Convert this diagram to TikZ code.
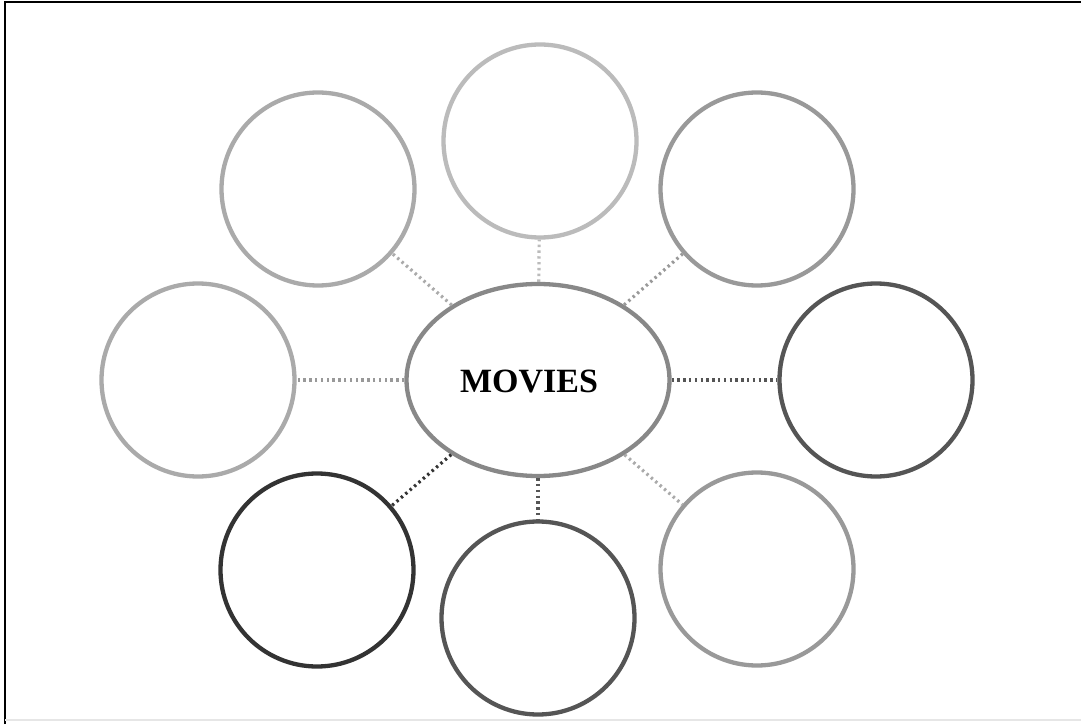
\documentclass[tikz,border=0pt]{standalone}
\usepackage{fontspec}
\setmainfont{Liberation Serif}
\usetikzlibrary{shapes.geometric}
\begin{document}
\begin{tikzpicture}[x=1pt,y=1pt,
  bubble/.style={circle,draw,line width=4.3pt,minimum size=193pt,inner sep=0pt},
  hub/.style={ellipse,draw=c88,line width=4.3pt,minimum width=263pt,minimum height=192pt,inner sep=0pt},
  title/.style={font=\fontsize{34}{36}\selectfont\bfseries,inner sep=0pt},
  link/.style={line width=3.2pt,dash pattern=on 2.4pt off 3.4pt}]
\definecolor{cBB}{HTML}{BBBBBB}
\definecolor{cAA}{HTML}{AAAAAA}
\definecolor{c99}{HTML}{999999}
\definecolor{c88}{HTML}{888888}
\definecolor{c55}{HTML}{555555}
\definecolor{c33}{HTML}{333333}
\definecolor{cEE}{HTML}{E6E6E6}
\useasboundingbox (0,0) rectangle (1081,724);
\fill[white] (0,0) rectangle (1081,724);
% frame
\draw[black,line width=2pt] (5,0) -- (5,722) -- (1081,722);
\draw[cEE,line width=1.5pt] (5,4) -- (1081,4);
% hub
\node[hub] (c) at (538,344) {};
\node[title] (m) at (529,343) {MOVIES};
% bubbles
\node[bubble,draw=cBB] (t)  at (540,583) {};
\node[bubble,draw=cAA] (tl) at (318,535) {};
\node[bubble,draw=c99] (tr) at (757,535) {};
\node[bubble,draw=cAA] (l)  at (198,344) {};
\node[bubble,draw=c55] (r)  at (876,344) {};
\node[bubble,draw=c33] (bl) at (317,154) {};
\node[bubble,draw=c55] (b)  at (538,106) {};
\node[bubble,draw=c99] (br) at (757,155) {};
% links
\draw[link,draw=cBB] (c) -- (t);
\draw[link,draw=cAA] (c) -- (tl);
\draw[link,draw=c99] (c) -- (tr);
\draw[link,draw=c99] (c) -- (l);
\draw[link,draw=c55] (c) -- (r);
\draw[link,draw=c33] (c) -- (bl);
\draw[link,draw=c55] (c) -- (b);
\draw[link,draw=cAA] (c) -- (br);
\end{tikzpicture}
\end{document}
